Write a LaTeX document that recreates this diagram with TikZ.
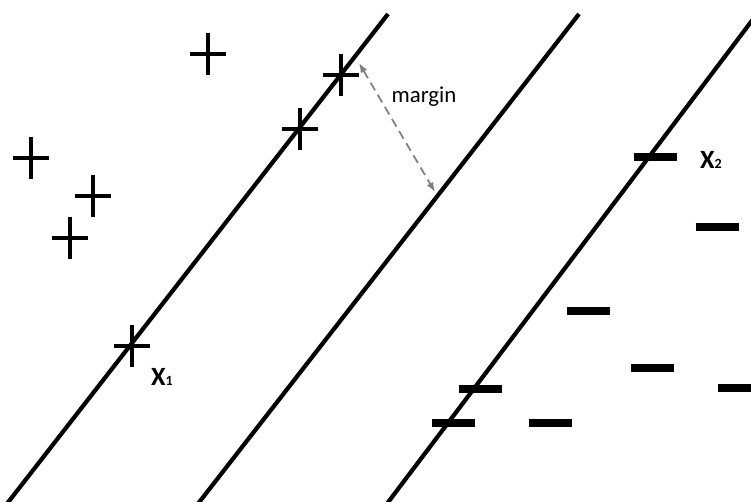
\documentclass[tikz,border=0pt]{standalone}
\usepackage{fontspec}
\setmainfont{Carlito}
\usetikzlibrary{arrows.meta}

\begin{document}
\begin{tikzpicture}[
    x=0.02cm, y=-0.02cm,
    hyper/.style={line width=2.4pt},
    plusmark/.style={line width=2.3pt},
    minusmark/.style={line width=4.6pt},
    gap/.style={{Latex[length=5.5pt,width=4.2pt]}-{Latex[length=5.5pt,width=4.2pt]}, dash pattern=on 5pt off 3pt, gray, line width=1pt},
    lab/.style={font=\bfseries\fontsize{15}{17}\selectfont, inner sep=0pt}
]
\useasboundingbox (0,0) rectangle (751,501);
\clip (0,0) rectangle (751,501);
\draw[hyper] (388,14) -- (6,505);
\draw[hyper] (579,14) -- (197,505);
\draw[hyper] (386,505) -- (760,10);
\foreach \px/\py in {208/54, 31/158, 93/196, 70/238, 341/75, 300/129, 132/346}
    \draw[plusmark] (\px-18,\py) -- (\px+18,\py) (\px,\py-21) -- (\px,\py+21);
\foreach \nx/\ny in {655/157, 717/227, 588/311, 652/368, 739/388, 480/389, 453/423, 550/423}
    \draw[minusmark] (\nx-21.5,\ny) -- (\nx+21.5,\ny);
\coordinate (top) at (359,63);
\coordinate (bot) at (435,192);
\draw[gap] (top) -- (bot);
\node[font=\fontsize{13}{15}\selectfont] (mlab) at (424,97) {margin};
\node[lab] (x1) at (162,377) {X{\fontsize{8}{8}\selectfont 1}};
\node[lab] (x2) at (711,160) {X{\fontsize{8}{8}\selectfont 2}};
\end{tikzpicture}
\end{document}
